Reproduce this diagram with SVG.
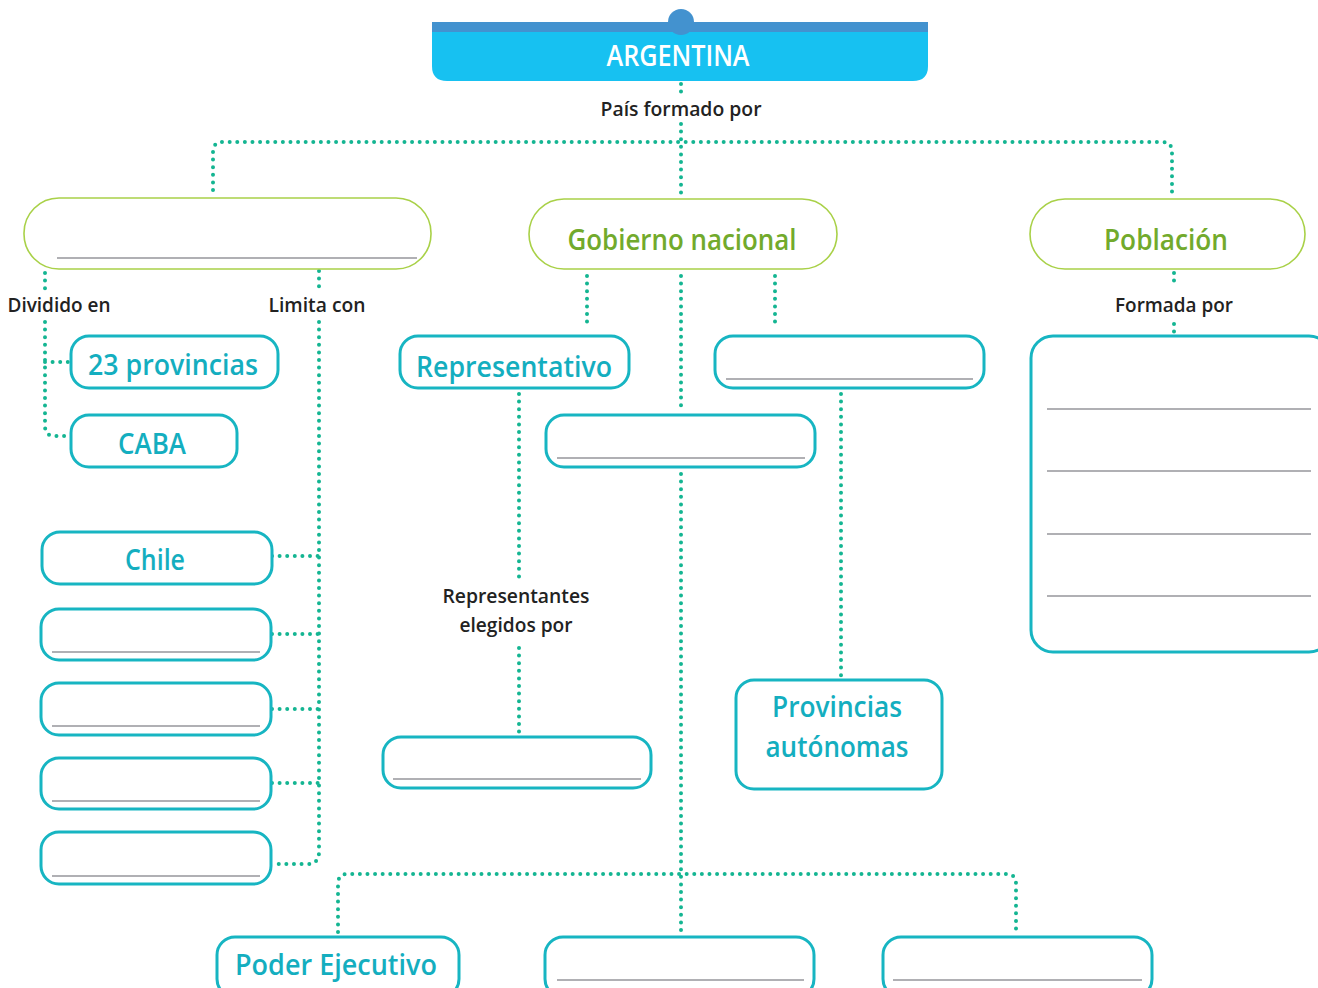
<svg xmlns="http://www.w3.org/2000/svg" width="1318" height="988" viewBox="0 0 1318 988">
<style>
.dot{fill:none;stroke:#14b592;stroke-width:4;stroke-linecap:round;stroke-dasharray:0 7.6}
.g{fill:#fff;stroke:#a9d148;stroke-width:1.6}
.t{fill:#fff;stroke:#17b5c2;stroke-width:3}
.ln{stroke:#b0b0b4;stroke-width:2}
.gt{font-family:"Open Sans",Lato,sans-serif;font-weight:600;font-size:29px;fill:#72aa2c;text-anchor:middle}
.tt{font-family:"Open Sans",Lato,sans-serif;font-weight:600;font-size:29px;fill:#14aebf;text-anchor:middle}
.lb{font-family:"Open Sans",Lato,sans-serif;font-weight:600;font-size:20px;fill:#222;text-anchor:middle}
</style>
<rect width="1318" height="988" fill="#fff"/>
<g id="connectors">
<path class="dot" d="M681 84V94M681 124V194"/>
<path class="dot" d="M213 190V152Q213 142 223 142H1162Q1172 142 1172 152V196"/>
<path class="dot" d="M45 273V290M45 322V426Q45 436 55 436H70M45 362H70"/>
<path class="dot" d="M319 271V290M319 322V852Q319 864 307 864H272M272 556H319M272 634H319M272 709H319M272 783H319"/>
<path class="dot" d="M587 276V328M681 276V410M775 276V328"/>
<path class="dot" d="M519 394V578M519 648V736"/>
<path class="dot" d="M841 394V678"/>
<path class="dot" d="M681 474V934"/>
<path class="dot" d="M338 932V884Q338 874 348 874H1006Q1016 874 1016 884V934"/>
<path class="dot" d="M1174 273V288M1174 324V334"/>
</g>
<g id="argentina">
<path d="M432 32H928V66Q928 81 913 81H447Q432 81 432 66Z" fill="#17c1f1"/>
<circle cx="681" cy="22" r="13" fill="#4392cf"/>
<rect x="432" y="22" width="496" height="10" fill="#4392cf"/>
<text x="678" y="66" font-family="'Open Sans',Lato,sans-serif" font-weight="600" font-size="28" fill="#fff" text-anchor="middle" textLength="143" lengthAdjust="spacingAndGlyphs">ARGENTINA</text>
</g>
<g id="label-pais"><text class="lb" x="681" y="116" textLength="161" lengthAdjust="spacingAndGlyphs">País formado por</text></g>
<g id="node-territorio">
<rect class="g" x="24" y="198" width="407" height="71" rx="35"/>
<line class="ln" x1="57" y1="258" x2="417" y2="258"/>
</g>
<g id="node-gobierno">
<rect class="g" x="529" y="199" width="308" height="70" rx="35"/>
<text class="gt" x="682" y="250" textLength="229" lengthAdjust="spacingAndGlyphs">Gobierno nacional</text>
</g>
<g id="node-poblacion">
<rect class="g" x="1030" y="199" width="275" height="70" rx="35"/>
<text class="gt" x="1166" y="250" textLength="124" lengthAdjust="spacingAndGlyphs">Población</text>
</g>
<g id="label-dividido"><text class="lb" x="59" y="312" textLength="103" lengthAdjust="spacingAndGlyphs">Dividido en</text></g>
<g id="label-limita"><text class="lb" x="317" y="312" textLength="97" lengthAdjust="spacingAndGlyphs">Limita con</text></g>
<g id="label-formada"><text class="lb" x="1174" y="312" textLength="118" lengthAdjust="spacingAndGlyphs">Formada por</text></g>
<g id="node-provincias">
<rect class="t" x="71" y="336" width="207" height="52" rx="18"/>
<text class="tt" x="173" y="375" font-size="30" textLength="170" lengthAdjust="spacingAndGlyphs">23 provincias</text>
</g>
<g id="node-caba">
<rect class="t" x="71" y="415" width="166" height="52" rx="18"/>
<text class="tt" x="152" y="454" textLength="68" lengthAdjust="spacingAndGlyphs">CABA</text>
</g>
<g id="node-chile">
<rect class="t" x="42" y="532" width="230" height="52" rx="18"/>
<text class="tt" x="155" y="570" textLength="60" lengthAdjust="spacingAndGlyphs">Chile</text>
</g>
<g id="node-limite2">
<rect class="t" x="41" y="609" width="230" height="51" rx="18"/>
<line class="ln" x1="52" y1="652" x2="260" y2="652"/>
</g>
<g id="node-limite3">
<rect class="t" x="41" y="683" width="230" height="52" rx="18"/>
<line class="ln" x1="52" y1="726" x2="260" y2="726"/>
</g>
<g id="node-limite4">
<rect class="t" x="41" y="758" width="230" height="51" rx="18"/>
<line class="ln" x1="52" y1="801" x2="260" y2="801"/>
</g>
<g id="node-limite5">
<rect class="t" x="41" y="832" width="230" height="52" rx="18"/>
<line class="ln" x1="52" y1="876" x2="260" y2="876"/>
</g>
<g id="node-representativo">
<rect class="t" x="400" y="336" width="229" height="52" rx="18"/>
<text class="tt" x="514" y="377" textLength="196" lengthAdjust="spacingAndGlyphs">Representativo</text>
</g>
<g id="node-gob-centro">
<rect class="t" x="546" y="415" width="269" height="52" rx="18"/>
<line class="ln" x1="557" y1="458" x2="805" y2="458"/>
</g>
<g id="node-gob-derecha">
<rect class="t" x="715" y="336" width="269" height="52" rx="18"/>
<line class="ln" x1="726" y1="379" x2="973" y2="379"/>
</g>
<g id="label-representantes">
<text class="lb" x="516" y="603" textLength="147" lengthAdjust="spacingAndGlyphs">Representantes</text>
<text class="lb" x="516" y="632" textLength="113" lengthAdjust="spacingAndGlyphs">elegidos por</text>
</g>
<g id="node-elegidos">
<rect class="t" x="383" y="737" width="268" height="51" rx="18"/>
<line class="ln" x1="393" y1="779" x2="641" y2="779"/>
</g>
<g id="node-autonomas">
<rect class="t" x="736" y="680" width="206" height="109" rx="18"/>
<text class="tt" x="837" y="717" textLength="130" lengthAdjust="spacingAndGlyphs">Provincias</text>
<text class="tt" x="837" y="757" textLength="143" lengthAdjust="spacingAndGlyphs">autónomas</text>
</g>
<g id="node-poblacion-lista">
<rect class="t" x="1031" y="336" width="300" height="316" rx="22"/>
<line class="ln" x1="1047" y1="409" x2="1311" y2="409"/>
<line class="ln" x1="1047" y1="471" x2="1311" y2="471"/>
<line class="ln" x1="1047" y1="534" x2="1311" y2="534"/>
<line class="ln" x1="1047" y1="596" x2="1311" y2="596"/>
</g>
<g id="node-ejecutivo">
<rect class="t" x="217" y="937" width="242" height="60" rx="18"/>
<text class="tt" x="336" y="975" textLength="202" lengthAdjust="spacingAndGlyphs">Poder Ejecutivo</text>
</g>
<g id="node-poder2">
<rect class="t" x="545" y="937" width="269" height="60" rx="18"/>
<line class="ln" x1="557" y1="980" x2="804" y2="980"/>
</g>
<g id="node-poder3">
<rect class="t" x="883" y="937" width="269" height="60" rx="18"/>
<line class="ln" x1="893" y1="980" x2="1142" y2="980"/>
</g>
</svg>
